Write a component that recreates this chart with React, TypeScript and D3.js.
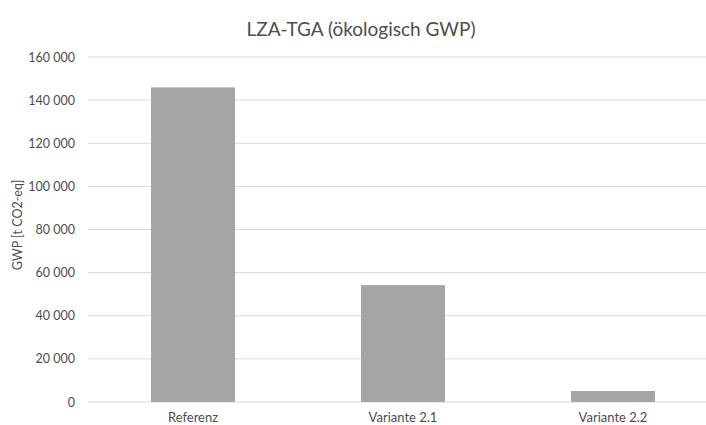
import React from "react";
import * as d3 from "d3";

const categories = ["Referenz", "Variante 2.1", "Variante 2.2"];
const values = [145900, 54200, 5100];
const yTicks = [0, 20000, 40000, 60000, 80000, 100000, 120000, 140000, 160000];
const title = "LZA-TGA (ökologisch GWP)";
const yLabel = "GWP [t CO2-eq]";

const W = 706;
const H = 425;
const left = 88;
const right = 718;
const top = 57;
const bottom = 402;
const FONT = "Lato, 'Open Sans', 'Liberation Sans', sans-serif";

const fmt = (v: number) => {
  if (v === 0) return "0";
  const s = String(v);
  return s.slice(0, s.length - 3) + " " + s.slice(-3);
};

export default function App() {
  const x = d3.scaleBand<string>().domain(categories).range([left, right]).paddingInner(0.6).paddingOuter(0.3);
  const y = d3.scaleLinear().domain([0, 160000]).range([bottom, top]);
  return (
    <svg width={W} height={H} style={{ position: "absolute", left: 0, top: 0, background: "#fff" }} fontFamily={FONT}>
      <rect x={0} y={0} width={W} height={H} fill="#fff" />
      {yTicks.map((t) => (
        <g key={t}>
          <line x1={left} x2={right} y1={y(t)} y2={y(t)} stroke="#d9d9d9" strokeWidth={1} />
          <text x={75} y={y(t) + 4.5} textAnchor="end" fontSize={12.5} fill="#4d4d4d" style={{ whiteSpace: "pre" }}>{fmt(t)}</text>
        </g>
      ))}
      {categories.map((c, i) => (
        <g key={c}>
          <rect x={x(c)} y={y(values[i])} width={x.bandwidth()} height={y(0) - y(values[i])} fill="#a5a5a5" />
          <text x={(x(c) as number) + x.bandwidth() / 2} y={422} textAnchor="middle" fontSize={13} fill="#4d4d4d">{c}</text>
        </g>
      ))}
      <text x={361} y={36} textAnchor="middle" fontSize={19} fill="#4d4d4d">{title}</text>
      <text transform={`translate(22, 225) rotate(-90)`} textAnchor="middle" fontSize={12.5} fill="#4d4d4d">{yLabel}</text>
    </svg>
  );
}
